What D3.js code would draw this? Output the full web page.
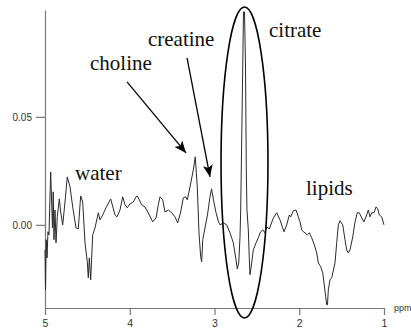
<!DOCTYPE html>
<html>
<head>
<meta charset="utf-8">
<script src="https://cdn.jsdelivr.net/npm/d3@7"></script>
<style>
html,body{margin:0;padding:0;background:#fff;}
svg{display:block;}
</style>
</head>
<body>
<svg id="chart" width="411" height="335"></svg>
<script>
// ---- data ----
const ppm = [5.000,4.994,4.985,4.976,4.965,4.953,4.933,4.912,4.903,4.894,4.882,4.870,4.855,4.831,4.815,4.791,4.764,4.737,4.705,4.673,
4.634,4.607,4.579,4.555,4.528,4.501,4.489,4.477,4.461,4.437,4.410,4.371,4.351,4.319,4.280,4.225,4.174,4.150,4.115,4.083,
4.056,4.029,3.997,3.958,3.926,3.911,3.887,3.859,3.820,3.769,3.729,3.690,3.663,3.643,3.611,3.584,3.545,3.505,3.466,3.434,
3.399,3.368,3.340,3.321,3.289,3.250,3.227,3.203,3.183,3.163,3.151,3.139,3.112,3.083,3.053,3.035,3.012,2.982,2.953,2.935,
2.896,2.856,2.817,2.778,2.746,2.731,2.714,2.699,2.691,2.679,2.667,2.658,2.646,2.634,2.625,2.617,2.601,2.589,2.581,2.561,
2.542,2.510,2.483,2.463,2.431,2.404,2.384,2.353,2.306,2.266,2.227,2.180,2.148,2.117,2.101,2.070,2.038,2.011,1.991,1.971,
1.952,1.932,1.905,1.881,1.853,1.822,1.794,1.775,1.747,1.723,1.708,1.688,1.676,1.667,1.657,1.637,1.617,1.578,1.558,1.539,
1.519,1.487,1.460,1.440,1.421,1.401,1.369,1.342,1.315,1.291,1.263,1.236,1.204,1.185,1.165,1.145,1.118,1.094,1.074,1.055,
1.027,1.000];
const intensity = [-0.0116,-0.0301,-0.0069,-0.0153,-0.0032,-0.0046,0.0245,-0.0014,0.0153,-0.0069,0.0069,-0.0083,0.0037,0.0120,0.0060,0.0000,0.0106,0.0222,0.0176,0.0083,
-0.0014,-0.0019,0.0134,0.0106,-0.0083,-0.0171,-0.0245,-0.0153,-0.0255,-0.0046,-0.0014,0.0056,0.0023,0.0046,0.0079,0.0120,0.0046,0.0037,0.0069,0.0130,
0.0093,0.0079,0.0097,0.0106,0.0130,0.0134,0.0116,0.0093,0.0083,0.0046,0.0014,0.0032,0.0093,0.0130,0.0116,0.0060,0.0069,0.0056,0.0037,0.0009,
0.0060,0.0125,0.0130,0.0116,0.0176,0.0255,0.0315,0.0176,-0.0037,-0.0148,-0.0171,-0.0069,-0.0014,0.0046,0.0130,0.0167,0.0116,0.0056,0.0014,0.0000,
0.0009,0.0000,-0.0037,-0.0083,-0.0162,-0.0204,-0.0176,-0.0056,0.0069,0.0394,0.0731,0.0986,0.0986,0.0731,0.0269,0.0069,-0.0023,-0.0162,-0.0231,-0.0176,
-0.0116,-0.0083,-0.0060,-0.0037,-0.0023,-0.0037,-0.0009,-0.0019,0.0032,0.0056,0.0023,-0.0032,0.0000,0.0046,0.0037,0.0065,0.0069,0.0037,0.0014,-0.0023,
-0.0032,-0.0037,-0.0046,-0.0037,-0.0060,-0.0093,-0.0130,-0.0176,-0.0194,-0.0222,-0.0269,-0.0333,-0.0370,-0.0370,-0.0301,-0.0255,-0.0245,-0.0176,-0.0083,0.0000,
0.0019,0.0000,-0.0069,-0.0116,-0.0130,-0.0116,-0.0056,0.0014,0.0056,0.0056,0.0032,0.0014,0.0046,0.0069,0.0037,0.0056,0.0056,0.0083,0.0074,0.0046,
0.0037,0.0000];

const xTicks = [5, 4, 3, 2, 1];
const yTicks = [0.00, 0.05];
const xUnit = "ppm";

// annotation labels (anchored in data coordinates)
const labelText = ["creatine", "choline", "citrate", "water", "lipids"];
const labelPpm  = [3.785, 4.469, 2.357, 4.646, 1.920];
const labelVal  = [0.0829, 0.0718, 0.0870, 0.0208, 0.0139];

// arrows: start -> tip (data coordinates)
const arrowFromPpm = [4.032, 3.324];
const arrowFromVal = [0.0662, 0.0773];
const arrowToPpm   = [3.336, 3.053];
const arrowToVal   = [0.0333, 0.0222];

// citrate ellipse (centre and radii in data units)
const ellipseCenter = [2.646, 0.0289];
const ellipseRadius = [0.277, 0.0720];

// ---- chart ----
const svg = d3.select("#chart");
const x = d3.scaleLinear().domain([5, 1]).range([45, 384]);
const y = d3.scaleLinear().domain([-0.0385, 0.0995]).range([308, 10]);

const axisColor = "#777";
const textColor = "#333";

// y axis
const gy = svg.append("g").attr("transform", `translate(${x(5)},0)`)
  .call(d3.axisLeft(y).tickValues(yTicks).tickFormat(d3.format(".2f")).tickSize(9).tickSizeOuter(0).tickPadding(4));
gy.select(".domain").attr("stroke", axisColor).attr("stroke-width", 1.2);
gy.selectAll(".tick line").attr("stroke", axisColor).attr("stroke-width", 1.2);
gy.selectAll(".tick text").attr("fill", textColor).style("font-family", "'Liberation Sans', Arial, sans-serif").style("font-size", "10px");

// x axis
const gx = svg.append("g").attr("transform", `translate(0,${y.range()[0]})`)
  .call(d3.axisBottom(x).tickValues(xTicks).tickFormat(d3.format("d")).tickSize(7).tickSizeOuter(0).tickPadding(5));
gx.select(".domain").attr("stroke", axisColor).attr("stroke-width", 1.2);
gx.selectAll(".tick line").attr("stroke", axisColor).attr("stroke-width", 1.2);
gx.selectAll(".tick text").attr("fill", textColor).style("font-family", "'Liberation Sans', Arial, sans-serif").style("font-size", "10.5px");

svg.append("text")
  .attr("x", x(1) + 10).attr("y", y.range()[0] + 3)
  .attr("fill", textColor)
  .style("font-family", "'Liberation Sans', Arial, sans-serif").style("font-size", "9px")
  .text(xUnit);

// spectrum
const pts = ppm.map((p, i) => [p, intensity[i]]);
svg.append("path")
  .datum(pts)
  .attr("fill", "none")
  .attr("stroke", "#2a2a2a")
  .attr("stroke-width", 1)
  .attr("stroke-linejoin", "round")
  .attr("d", d3.line().x(d => x(d[0])).y(d => y(d[1])));

// ellipse around citrate
svg.append("ellipse")
  .attr("cx", x(ellipseCenter[0])).attr("cy", y(ellipseCenter[1]))
  .attr("rx", Math.abs(x(ellipseCenter[0] + ellipseRadius[0]) - x(ellipseCenter[0])))
  .attr("ry", Math.abs(y(ellipseCenter[1] + ellipseRadius[1]) - y(ellipseCenter[1])))
  .attr("fill", "none").attr("stroke", "#000").attr("stroke-width", 1.6);

// arrows
svg.append("defs").append("marker")
  .attr("id", "ah").attr("viewBox", "0 0 12 10")
  .attr("refX", 12).attr("refY", 5)
  .attr("markerWidth", 12).attr("markerHeight", 10)
  .attr("markerUnits", "userSpaceOnUse")
  .attr("orient", "auto")
  .append("path").attr("d", "M0,0 L12,5 L0,10 L3,5 Z").attr("fill", "#000");

arrowFromPpm.forEach((p, i) => {
  svg.append("line")
    .attr("x1", x(p)).attr("y1", y(arrowFromVal[i]))
    .attr("x2", x(arrowToPpm[i])).attr("y2", y(arrowToVal[i]))
    .attr("stroke", "#000").attr("stroke-width", 1.3)
    .attr("marker-end", "url(#ah)");
});

// labels
labelText.forEach((t, i) => {
  svg.append("text")
    .attr("x", x(labelPpm[i])).attr("y", y(labelVal[i]))
    .attr("fill", "#111")
    .style("font-family", "'Liberation Serif', 'Times New Roman', serif")
    .style("font-size", "21px")
    .text(t);
});
</script>
</body>
</html>
